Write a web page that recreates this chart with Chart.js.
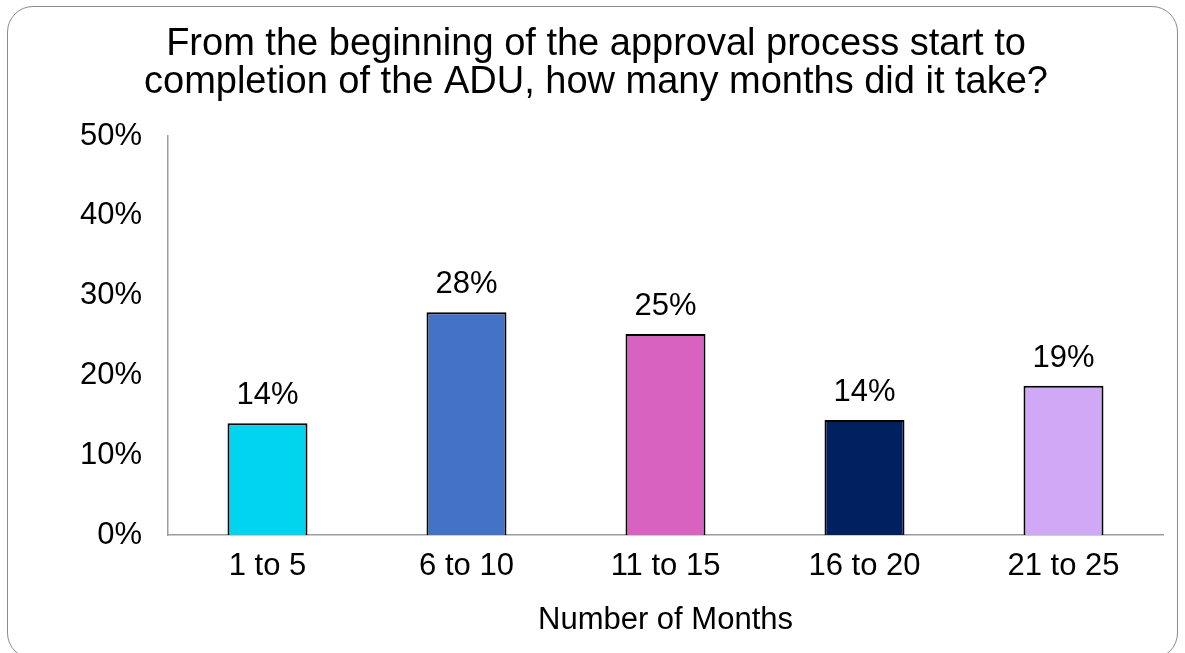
<!DOCTYPE html>
<html>
<head>
<meta charset="utf-8">
<script src="https://cdn.jsdelivr.net/npm/chart.js@4"></script>
<style>
  html, body { margin: 0; padding: 0; background: #fff; overflow: hidden; }
  #frame { position: absolute; left: 7px; top: 6px; width: 1171px; height: 653px;
           border: 1.5px solid #8c8c8c; border-radius: 26px; box-sizing: border-box; }
  #c { position: absolute; left: 0; top: 0; }
</style>
</head>
<body>
<div id="frame"></div>
<canvas id="c" width="1185" height="653"></canvas>
<script>
const categories = ['1 to 5', '6 to 10', '11 to 15', '16 to 20', '21 to 25'];
const values = [14.0, 27.9, 25.2, 14.4, 18.7];
const barColors = ['#00D4EF', '#4472C4', '#D862C0', '#002060', '#CFA9F5'];
const yTickLabels = ['0%', '10%', '20%', '30%', '40%', '50%'];
const titleLines = ['From the beginning of the approval process start to', 'completion of the ADU, how many months did it take?'];
const xTitle = 'Number of Months';

const FONT = "'Liberation Sans', Arial, Helvetica, sans-serif";

const dataLabels = {
  id: 'dataLabels',
  afterLayout(chart) {
    if (chart.titleBlock) { chart.titleBlock.left = 7; chart.titleBlock.right = 1185; }
  },
  afterDatasetsDraw(chart) {
    const ctx = chart.ctx;
    const meta = chart.getDatasetMeta(0);
    ctx.save();
    ctx.font = '31px ' + FONT;
    ctx.fillStyle = '#000';
    ctx.textAlign = 'center';
    ctx.textBaseline = 'alphabetic';
    meta.data.forEach((bar, i) => {
      ctx.fillText(Math.round(values[i]) + '%', bar.x, bar.y - 19);
    });
    ctx.restore();
  }
};

new Chart(document.getElementById('c'), {
  type: 'bar',
  data: {
    labels: categories,
    datasets: [{
      data: values,
      backgroundColor: barColors,
      borderColor: '#000',
      borderWidth: 2,
      barPercentage: 0.402,
      categoryPercentage: 1.0
    }]
  },
  options: {
    responsive: false,
    animation: false,
    layout: { padding: { left: 0, right: 22, top: 0, bottom: 0 } },
    plugins: {
      legend: { display: false },
      tooltip: { enabled: false },
      title: {
        display: true,
        text: titleLines,
        color: '#000',
        font: { family: FONT, size: 38, weight: 'normal', lineHeight: 1.0 },
        padding: { top: 26, bottom: 34 }
      }
    },
    scales: {
      x: {
        grid: { display: false, drawTicks: false },
        border: { display: true, color: '#9c9c9c', width: 1.5 },
        ticks: { color: '#000', font: { family: FONT, size: 31 }, padding: 13, maxRotation: 0 },
        title: { display: true, text: xTitle, color: '#000', font: { family: FONT, size: 31 }, padding: { top: 0, bottom: 14 } },
        afterFit(scale) { scale.height = 118; }
      },
      y: {
        min: 0, max: 50,
        grid: { display: false, drawTicks: false },
        border: { display: true, color: '#9c9c9c', width: 1.5 },
        ticks: {
          stepSize: 10,
          color: '#000',
          font: { family: FONT, size: 31 },
          padding: 26,
          callback: (v) => yTickLabels[Math.round(v / 10)]
        },
        afterFit(scale) { scale.width = 168; }
      }
    }
  },
  plugins: [dataLabels]
});
</script>
</body>
</html>
